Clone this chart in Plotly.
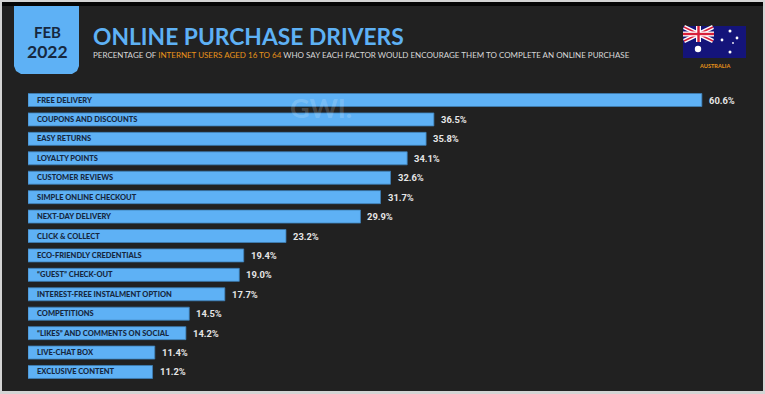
import plotly.graph_objects as go

categories = ["FREE DELIVERY", "COUPONS AND DISCOUNTS", "EASY RETURNS", "LOYALTY POINTS", "CUSTOMER REVIEWS",
              "SIMPLE ONLINE CHECKOUT", "NEXT-DAY DELIVERY", "CLICK & COLLECT", "ECO-FRIENDLY CREDENTIALS",
              "“GUEST” CHECK-OUT", "INTEREST-FREE INSTALMENT OPTION", "COMPETITIONS",
              "“LIKES” AND COMMENTS ON SOCIAL", "LIVE-CHAT BOX", "EXCLUSIVE CONTENT"]
values = [60.6, 36.5, 35.8, 34.1, 32.6, 31.7, 29.9, 23.2, 19.4, 19.0, 17.7, 14.5, 14.2, 11.4, 11.2]

W, H = 765, 394
BLUE = "#5eb1f5"
DARK = "#212121"
INK = "#16283f"

def X(p): return p / W
def Y(p): return 1 - p / H

shapes = []
def rect(x0, y0, x1, y1, color, layer="below"):
    shapes.append(dict(type="rect", xref="paper", yref="paper", x0=X(x0), x1=X(x1), y0=Y(y0), y1=Y(y1),
                       fillcolor=color, line_width=0, layer=layer))
def poly(points, color, layer="below"):
    path = "M" + " L".join(f"{X(a):.5f},{Y(b):.5f}" for a, b in points) + " Z"
    shapes.append(dict(type="path", xref="paper", yref="paper", path=path, fillcolor=color, line_width=0, layer=layer))
def dot(cx, cy, r, color="#ffffff"):
    shapes.append(dict(type="circle", xref="paper", yref="paper", x0=X(cx - r), x1=X(cx + r), y0=Y(cy + r), y1=Y(cy - r),
                       fillcolor=color, line_width=0, layer="above"))

rect(2, 2, 763, 391, DARK)
rect(2, 2, 763, 6, "#050505")

# date tab
poly([(14, 6), (79, 6), (79, 66), (77, 71), (72, 74), (21, 74), (16, 71), (14, 66)], BLUE)

# flag
fx0, fy0, fx1, fy1 = 683, 26, 746, 58
jx1, jy1 = 714, 42
rect(fx0, fy0, fx1, fy1, "#14147a", "above")
def band(a, b, t, color):
    dx, dy = b[0] - a[0], b[1] - a[1]
    n = (dx * dx + dy * dy) ** 0.5
    ox, oy = -dy / n * t, dx / n * t
    poly([(a[0] + ox, a[1] + oy), (b[0] + ox, b[1] + oy), (b[0] - ox, b[1] - oy), (a[0] - ox, a[1] - oy)], color, "above")
band((fx0 + 1, fy0 + 1), (jx1 - 1, jy1 - 1), 2.2, "#ffffff")
band((fx0 + 1, jy1 - 1), (jx1 - 1, fy0 + 1), 2.2, "#ffffff")
band((fx0 + 1, fy0 + 1), (jx1 - 1, jy1 - 1), 0.8, "#d8203a")
band((fx0 + 1, jy1 - 1), (jx1 - 1, fy0 + 1), 0.8, "#d8203a")
rect(fx0, 31.5, jx1, 36.5, "#ffffff", "above")
rect(696, fy0, 701, jy1, "#ffffff", "above")
rect(fx0, 32.8, jx1, 35.2, "#d8203a", "above")
rect(697.3, fy0, 699.7, jy1, "#d8203a", "above")
dot(698, 49, 3.2)
dot(730, 31, 1.5)
dot(722, 40, 1.4)
dot(737, 38, 1.4)
dot(733, 43, 0.9)
dot(730, 52, 1.5)

annotations = []
def label(x, y, text, size, color, anchor="left", family="Lato", weight=None, **kw):
    font = dict(family=family, size=size, color=color)
    if weight:
        font["weight"] = weight
    annotations.append(dict(xref="paper", yref="paper", x=X(x), y=Y(y), text=text, showarrow=False,
                            xanchor=anchor, yanchor="middle", font=font, **kw))

label(47, 32, "<b>FEB</b>", 15, INK, "center")
label(47, 51.5, "<b>2022</b>", 17.5, INK, "center")
label(91, 35.5, "<b>ONLINE PURCHASE DRIVERS</b>", 22.8, BLUE)
label(91, 55, "PERCENTAGE OF <span style='color:#e8931a'>INTERNET USERS AGED 16 TO 64</span> WHO SAY EACH FACTOR WOULD ENCOURAGE THEM TO COMPLETE AN ONLINE PURCHASE",
      8, "#d8d8d8")
label(714, 65, "<b>AUSTRALIA</b>", 5.6, "#e8931a", "center")
label(321, 108, "<b>GWI.</b>", 27, "rgba(255,255,255,0.18)", "center")

for c in categories:
    annotations.append(dict(xref="x", yref="y", x=0, y=c, text=c, showarrow=False, xanchor="left",
                            yanchor="middle", xshift=7, font=dict(family="Lato", size=7.5, color=INK, weight=900)))
for c, v in zip(categories, values):
    annotations.append(dict(xref="x", yref="y", x=v, y=c, text=f"{v:.1f}%", showarrow=False, xanchor="left",
                            yanchor="middle", xshift=5, font=dict(family="Roboto", size=9.4, color="#e6e6e6", weight=700)))

fig = go.Figure(go.Bar(
    x=values, y=categories, orientation="h",
    marker=dict(color=BLUE, line=dict(color="#3d7fb5", width=0.8)),
    hoverinfo="skip",
))
fig.update_layout(
    width=W, height=H, margin=dict(l=0, r=0, t=0, b=0), paper_bgcolor="#d4d4d4", plot_bgcolor="rgba(0,0,0,0)",
    showlegend=False, bargap=0.33, shapes=shapes, annotations=annotations,
    xaxis=dict(visible=False, domain=[X(28), X(763)], range=[0, 735 / 11.12]),
    yaxis=dict(visible=False, domain=[Y(381.7), Y(90.3)], autorange="reversed", type="category"),
)
fig.write_html("out.html", config=dict(displayModeBar=False),
               post_script="document.body.style.margin='0';document.documentElement.style.overflow='hidden';")
